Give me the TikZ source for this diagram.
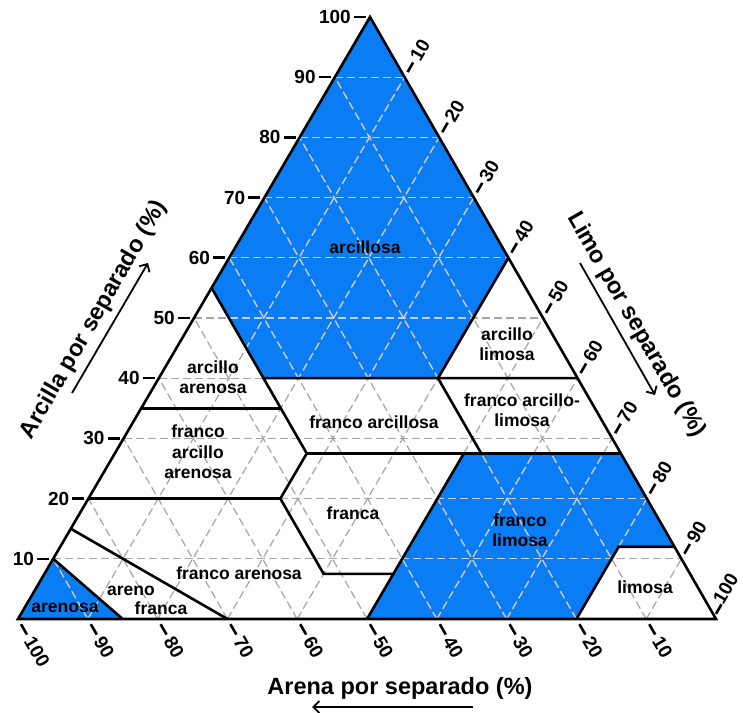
\documentclass[tikz,border=0pt]{standalone}
\usepackage{fontspec}
\setmainfont{Liberation Sans}
\usetikzlibrary{arrows.meta,calc}
\definecolor{soilblue}{RGB}{10,125,245}
\definecolor{gridgray}{RGB}{165,165,165}
\definecolor{gridlight}{RGB}{205,205,205}

% dashed 10 % grid in the three directions (silt, clay) coordinates
\newcommand{\soilgrid}[1]{%
  \foreach \k in {10,20,...,90} {
    \draw[gridline,#1] (0,\k) -- ({100-\k},\k);
    \draw[gridline,#1] (\k,0) -- (\k,{100-\k});
    \draw[gridline,#1] ({100-\k},0) -- (0,{100-\k});
  }}

\begin{document}
\begin{tikzpicture}[x=1pt,y=1pt,
  boundary/.style={line width=2.6pt, line join=miter, line cap=butt},
  gridline/.style={line width=1.2pt, dash pattern=on 8pt off 4pt},
  region/.style={font=\fontsize{17.5}{20.5}\selectfont\bfseries, align=center, inner sep=0pt},
  ticknum/.style={font=\fontsize{19}{20}\selectfont\bfseries, inner sep=0pt},
  tickmark/.style={line width=2.6pt},
  axistitle/.style={font=\fontsize{23.5}{25}\selectfont\bfseries, inner sep=0pt},
  axisarrow/.style={line width=1.8pt, -{Straight Barb[length=6pt,width=12pt,line width=1.8pt]}}
]
\useasboundingbox (0,0) rectangle (743,712);
\fill[white] (0,0) rectangle (743,712);

\begin{scope}[shift={(18,93)}, x={(6.98pt,0pt)}, y={(3.52pt,6.02pt)}]
  % classes shaded in blue
  \fill[soilblue] (0,100) -- (0,55) -- (15,40) -- (40,40) -- (40,60) -- cycle;
  \fill[soilblue] (50,27.5) -- (72.5,27.5) -- (88,12) -- (80,12) -- (80,0) -- (50,0) -- cycle;
  \fill[soilblue] (0,0) -- (0,10) -- (15,0) -- cycle;

  % grid, lighter where it crosses the blue classes
  \soilgrid{gridgray}
  \begin{scope}
    \clip (0,100) -- (0,55) -- (15,40) -- (40,40) -- (40,60) -- cycle
          (50,27.5) -- (72.5,27.5) -- (88,12) -- (80,12) -- (80,0) -- (50,0) -- cycle
          (0,0) -- (0,10) -- (15,0) -- cycle;
    \soilgrid{gridlight}
  \end{scope}

  % class boundaries
  \draw[boundary] (0,55) -- (15,40) -- (60,40);
  \draw[boundary] (40,60) -- (40,40) -- (52.5,27.5);
  \draw[boundary] (15,40) -- (27.5,27.5) -- (27.5,20) -- (40,7.5) -- (50,7.5);
  \draw[boundary] (50,0) -- (50,27.5);
  \draw[boundary] (0,35) -- (20,35);
  \draw[boundary] (0,20) -- (27.5,20);
  \draw[boundary] (27.5,27.5) -- (72.5,27.5);
  \draw[boundary] (80,0) -- (80,12) -- (88,12);
  \draw[boundary] (0,15) -- (30,0);
  \draw[boundary] (0,10) -- (15,0);
  \draw[boundary] (0,0) -- (100,0) -- (0,100) -- cycle;

  % points on the three sides where the scales are marked
  \foreach \k in {10,20,...,100} {
    \coordinate (L\k) at (0,\k);
    \coordinate (S\k) at ({100-\k},0);
    \coordinate (R\k) at (\k,{100-\k});
  }
\end{scope}

% scale marks and numbers
\foreach \k in {10,20,...,100} {
  \draw[tickmark] ($(L\k)+(-4,0)$) -- ($(L\k)+(-16,0)$);
  \node[ticknum, anchor=east] (nL\k) at ($(L\k)+(-19,0)$) {\k};
  \draw[tickmark] ($(S\k)+(-60:6)$) -- ($(S\k)+(-60:18)$);
  \node[ticknum, anchor=west, rotate=-60] (nS\k) at ($(S\k)+(-60:22)$) {\k};
}
\foreach \k in {10,20,...,90} {
  \draw[tickmark] ($(R\k)+(60:6)$) -- ($(R\k)+(60:17)$);
  \node[ticknum, anchor=west, rotate=60] (nR\k) at ($(R\k)+(60:20)$) {\k};
}
% last mark of the silt scale, pulled in to stay inside the right margin
\draw[tickmark] ($(R100)+(60:6)+(-3,0)$) -- ($(R100)+(60:17)+(-3,0)$);
\node[ticknum, anchor=west, rotate=60] (nR100) at ($(R100)+(60:19)+(-8,0)$) {100};

% class names
\node[region] (arcillosa) at (365,465) {arcillosa};
\node[region] (arcar) at (213,335) {arcillo\\arenosa};
\node[region] (frarcar) at (198,260) {franco\\arcillo\\arenosa};
\node[region] (frarc) at (374,290) {franco arcillosa};
\node[region] (arclim) at (507,368) {arcillo\\limosa};
\node[region] (frarclim) at (522,302) {franco arcillo-\\limosa};
\node[region] (franca) at (353,199) {franca};
\node[region] (frlim) at (520,182) {franco\\limosa};
\node[region] (limosa) at (645,125) {limosa};
\node[region] (frare) at (239,139) {franco arenosa};
\node[region] (areno) at (131,121) {areno};
\node[region] (arenofr) at (161,104) {franca};
\node[region] (arenosa) at (65,104) {arenosa};

% axis titles with their direction arrows
\node[axistitle] (tArena) at (400,24) {Arena por separado (\%)};
\coordinate (aArena1) at (473,5);
\coordinate (aArena2) at (312,5);
\draw[axisarrow] (aArena1) -- (aArena2);

\node[axistitle, rotate=60] (tArcilla) at (94,392) {Arcilla por separado (\%)};
\coordinate (aArcilla1) at (72,319);
\coordinate (aArcilla2) at (148,449);
\draw[axisarrow] (aArcilla1) -- (aArcilla2);

\node[axistitle, rotate=-60] (tLimo) at (636,387) {Limo por separado (\%)};
\coordinate (aLimo1) at (580,449);
\coordinate (aLimo2) at (655,317);
\draw[axisarrow] (aLimo1) -- (aLimo2);
\end{tikzpicture}
\end{document}
